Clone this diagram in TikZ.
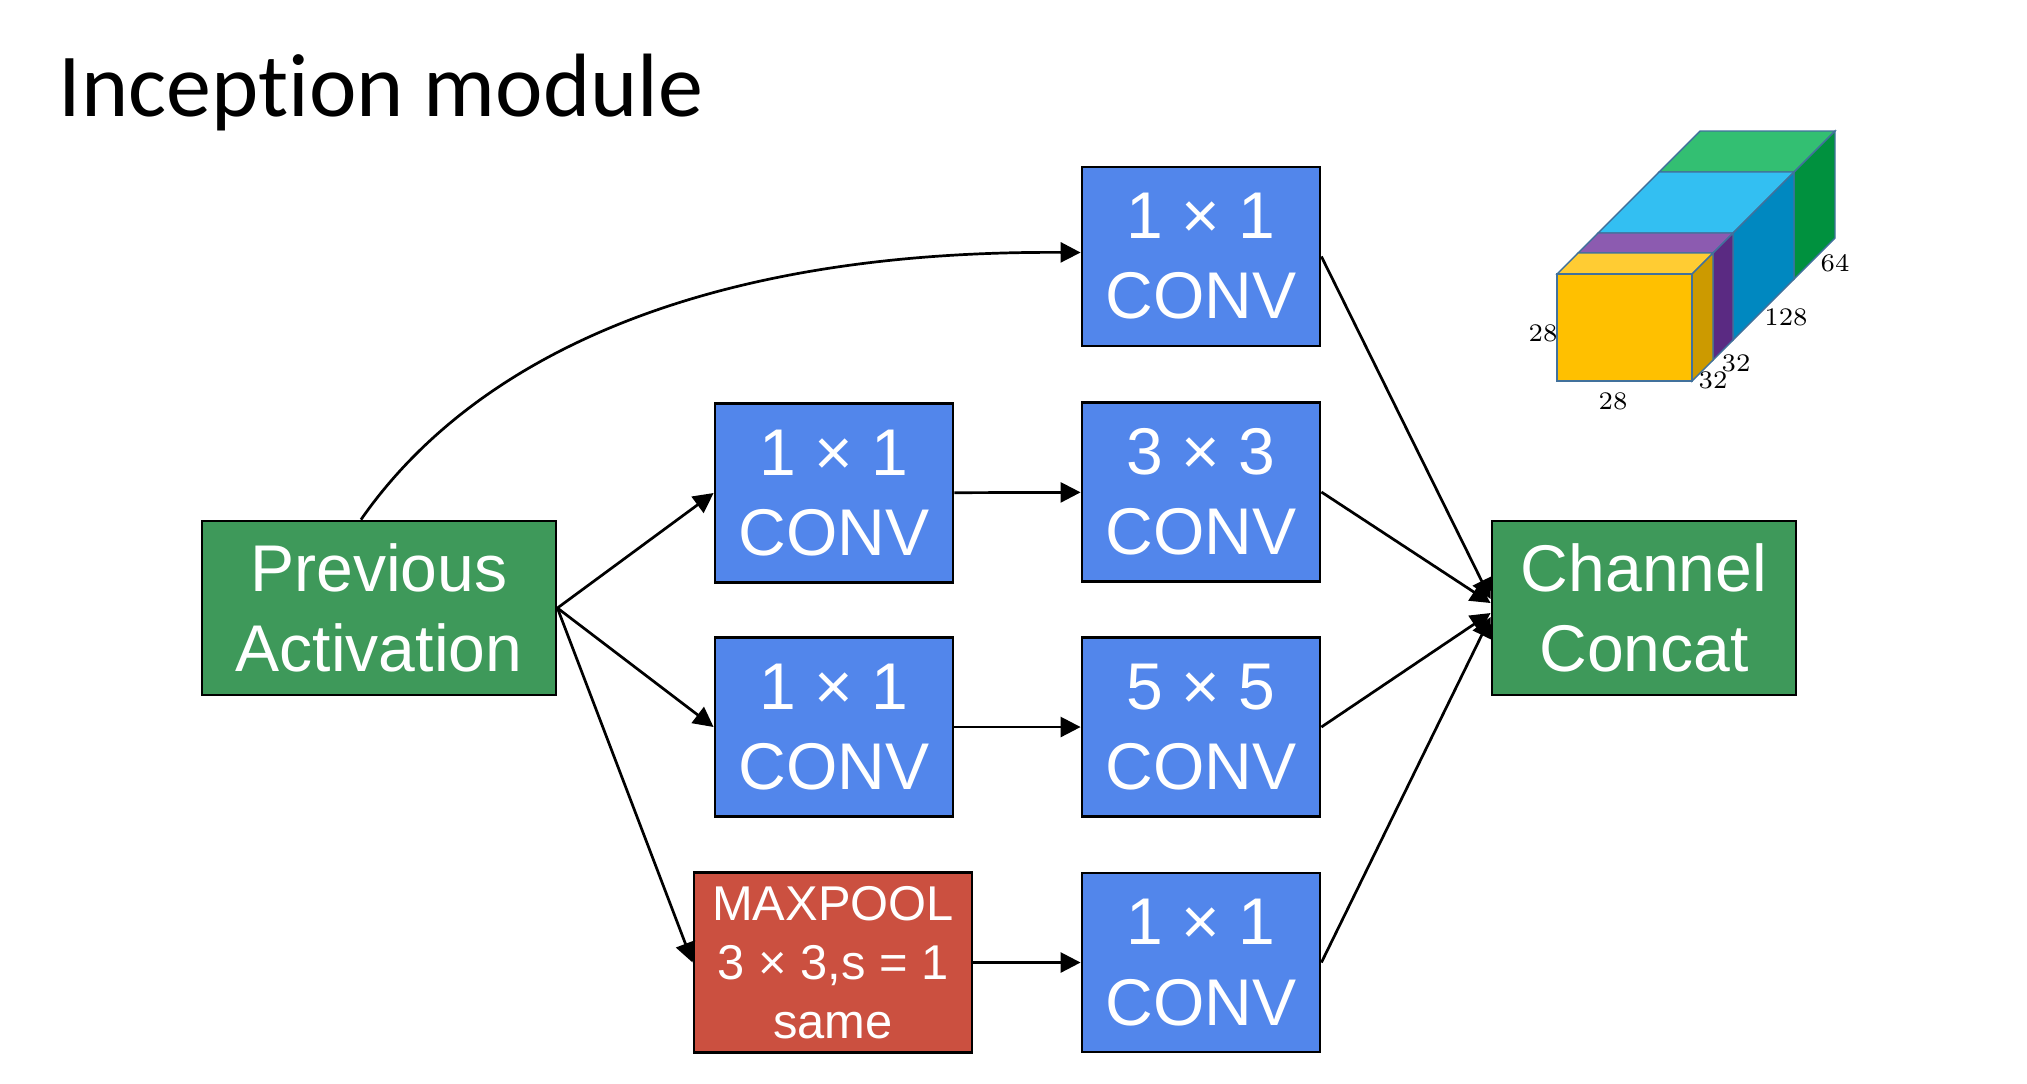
\documentclass[tikz,border=0pt]{standalone}
\usepackage{fontspec}
\usepackage{tikz}
\usepackage{xcolor}
\usetikzlibrary{arrows.meta}

\newfontfamily\boxfont{Liberation Sans}
\newfontfamily\titlefont[Ligatures=NoCommon]{Carlito}

\definecolor{convblue}{HTML}{5286EB}
\definecolor{actgreen}{HTML}{3E995A}
\definecolor{poolred}{HTML}{CB5040}
\definecolor{cubeedge}{HTML}{41719C}
\definecolor{yfront}{HTML}{FFC000}
\definecolor{ytop}{HTML}{FFCC33}
\definecolor{yside}{HTML}{CC9A00}
\definecolor{ptop}{HTML}{8C5BB0}
\definecolor{pside}{HTML}{5A2A82}
\definecolor{btop}{HTML}{33BFF2}
\definecolor{bside}{HTML}{0088C0}
\definecolor{gtop}{HTML}{33BF72}
\definecolor{gside}{HTML}{00913E}

\begin{document}
\begin{tikzpicture}[x=0.1mm,y=-0.1mm,
        blk/.style={draw=black,line width=0.8pt,text=white,align=center,inner sep=0pt,
            font=\boxfont\fontsize{18.8}{22.8}\selectfont},
        conv/.style={blk,fill=convblue,minimum width=23.8mm,minimum height=17.9mm},
        act/.style={blk,fill=actgreen,minimum height=17.4mm},
        pool/.style={blk,fill=poolred,minimum width=27.8mm,minimum height=18mm,
            font=\boxfont\fontsize{13.9}{16.8}\selectfont},
        arr/.style={draw,line width=0.77pt,-{Triangle[length=2mm,width=2mm]}},
        face/.style={draw=cubeedge,line width=0.4pt},
        dim/.style={font=\fontsize{7.2}{8}\selectfont,inner sep=0pt}]
            \useasboundingbox (0,0) rectangle (2027,1083);

            \node (title) at (58,116) [anchor=base west,inner sep=0pt,font=\titlefont\fontsize{25.6}{30}\selectfont] {Inception module};

            \node (prev) at (379,608) [act,minimum width=35.4mm] {Previous\\Activation};
            \node (cc) at (1644,608) [act,minimum width=30.4mm] {Channel\\Concat};

            \node (c1) at (1201,256.5) [conv] {1 × 1\\CONV};
            \node (r2a) at (834,493) [conv] {1 × 1\\CONV};
            \node (r2b) at (1201,492) [conv] {3 × 3\\CONV};
            \node (r3a) at (834,727) [conv] {1 × 1\\CONV};
            \node (r3b) at (1201,727) [conv] {5 × 5\\CONV};
            \node (mp) at (833,962.5) [pool] {MAXPOOL\\3 × 3,s = 1\\same};
            \node (r4b) at (1201,962.5) [conv] {1 × 1\\CONV};

            \draw[arr] ([xshift=-1.8mm]prev.north) .. controls (465,370) and (680,250) .. ([yshift=0.4mm]c1.west);
            \path (prev.east) edge[arr] (r2a.west) edge[arr] (r3a.west) edge[arr] (mp.west)
            (r2a) edge[arr] (r2b)  (r3a) edge[arr] (r3b)  (mp) edge[arr] (r4b);
            \path (c1.east) edge[arr] ([yshift=0.9mm]cc.west)  (r2b.east) edge[arr] ([yshift=0.5mm]cc.west)
            (r3b.east) edge[arr] ([yshift=-0.5mm]cc.west)  (r4b.east) edge[arr] ([yshift=-0.9mm]cc.west);

            % output volume
            \filldraw[face,fill=gtop] (1659,172) -- (1794,172) -- (1835,131) -- (1700,131) -- cycle;
            \filldraw[face,fill=gside] (1794,172) -- (1835,131) -- (1835,238) -- (1794,279) -- cycle;
            \filldraw[face,fill=btop] (1598,233) -- (1733,233) -- (1794,172) -- (1659,172) -- cycle;
            \filldraw[face,fill=bside] (1733,233) -- (1794,172) -- (1794,279) -- (1733,340) -- cycle;
            \filldraw[face,fill=ptop] (1578,253) -- (1713,253) -- (1733,233) -- (1598,233) -- cycle;
            \filldraw[face,fill=pside] (1713,253) -- (1733,233) -- (1733,340) -- (1713,360) -- cycle;
            \filldraw[face,fill=ytop] (1557,274) -- (1692,274) -- (1713,253) -- (1578,253) -- cycle;
            \filldraw[face,fill=yside] (1692,274) -- (1713,253) -- (1713,360) -- (1692,381) -- cycle;
            \filldraw[face,fill=yfront] (1557,274) rectangle (1692,381);

            \node (h28) at (1543,333) [dim] {28};
            \node (w28) at (1613,401) [dim] {28};
            \node (d32a) at (1713,380) [dim] {32};
            \node (d32b) at (1736,363) [dim] {32};
            \node (d128) at (1786,317) [dim] {128};
            \node (d64) at (1835,263) [dim] {64};

        \end{tikzpicture}
\end{document}
